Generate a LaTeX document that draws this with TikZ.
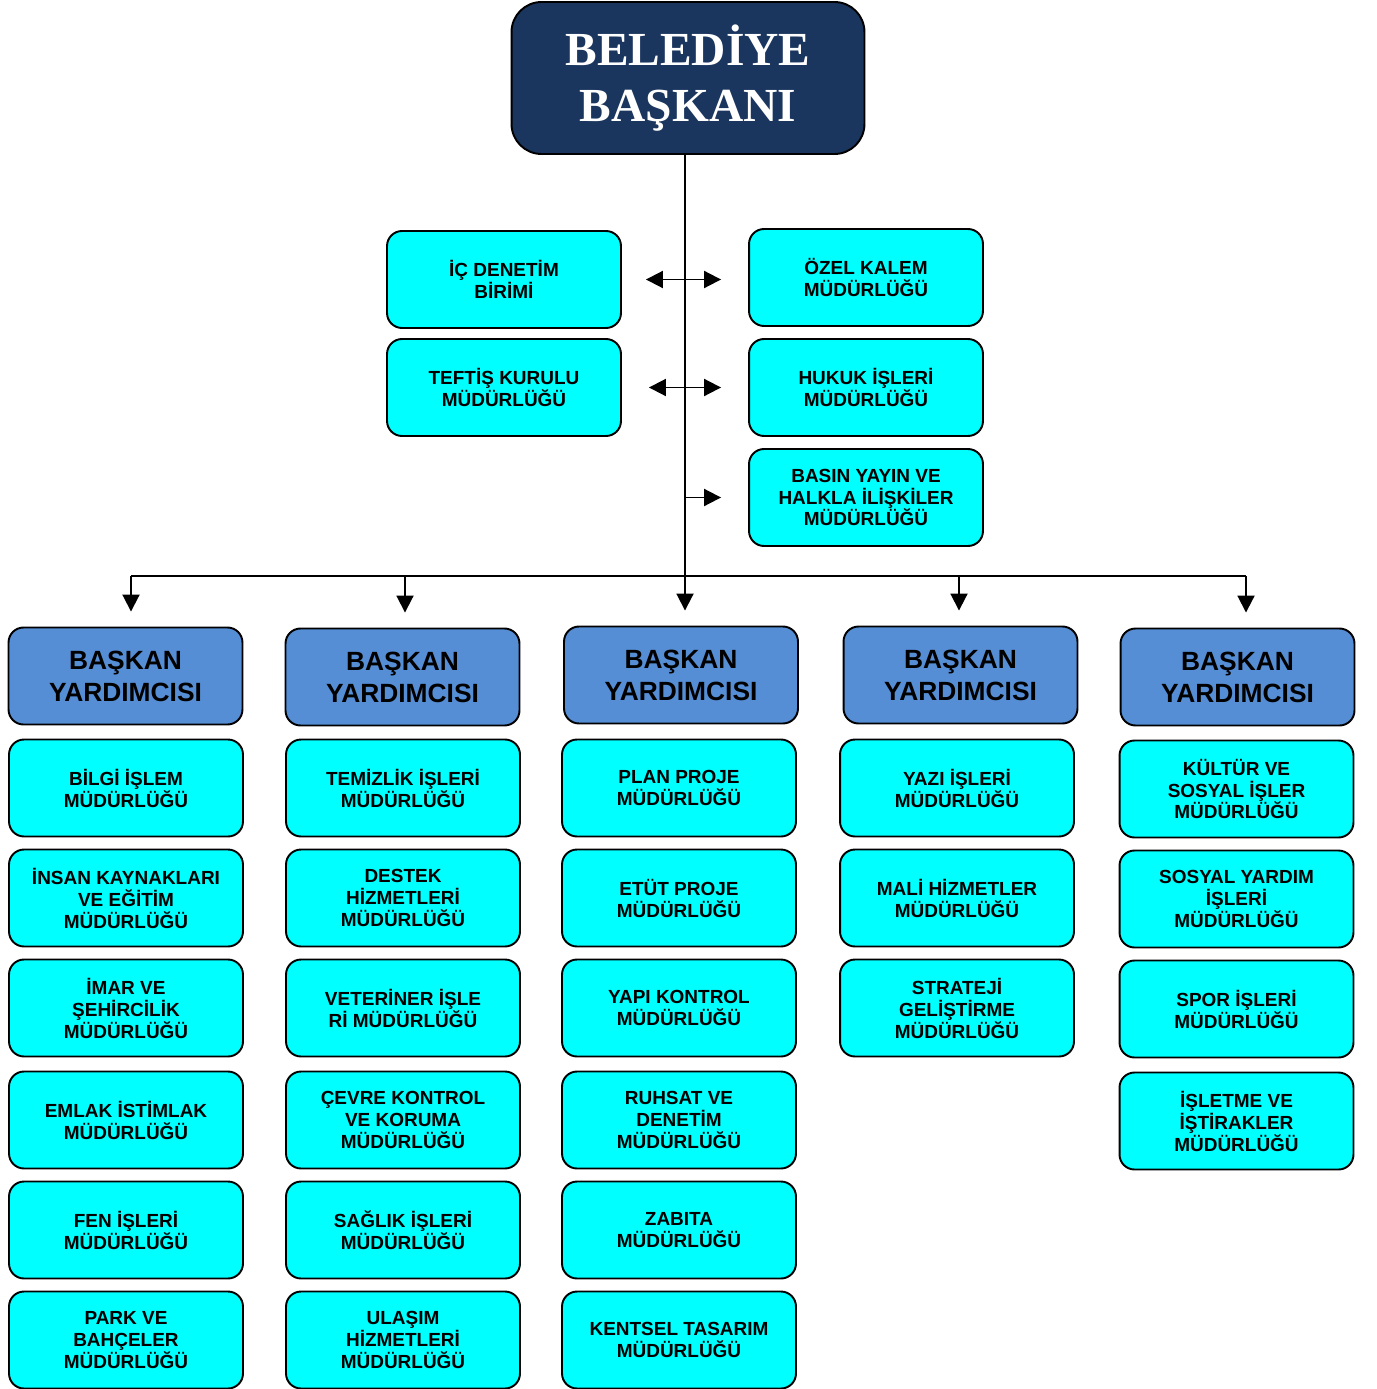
\documentclass[tikz,border=0pt]{standalone}
\usepackage{fontspec}
\setmainfont{Liberation Sans}
\newfontfamily\titlefont{Liberation Serif}
\usetikzlibrary{arrows.meta}
\definecolor{navy}{RGB}{27,54,94}
\definecolor{vpblue}{RGB}{85,142,213}
\definecolor{unitcyan}{RGB}{0,255,255}
\begin{document}
\begin{tikzpicture}[x=0.02cm,y=-0.02cm,
	unit/.style={draw,line width=1.1pt,fill=unitcyan,rounded corners=0.3cm,minimum width=4.68cm,minimum height=1.94cm,inner sep=0pt,align=center,font=\bfseries\fontsize{10.8}{12.5}\selectfont},
	vp/.style={unit,fill=vpblue,font=\bfseries\fontsize{15}{18.2}\selectfont},
	link/.style={line width=1.1pt},
	tip/.style={link,-{Triangle[length=0.34cm,width=0.34cm]}},
	both/.style={link,{Triangle[length=0.34cm,width=0.34cm]}-{Triangle[length=0.34cm,width=0.34cm]}}]
	\useasboundingbox (0,0) rectangle (1376,1389);
	\node[draw,line width=1.1pt,fill=navy,rounded corners=0.6cm,minimum width=7.06cm,minimum height=3.04cm,align=center,text=white,font=\titlefont\bfseries\fontsize{27}{31.9}\selectfont] (mayor) at (688,78) {BELEDİYE\\BAŞKANI};
	\node[unit] (icdenetim) at (504,279.5) {İÇ DENETİM\\BİRİMİ};
	\node[unit] (teftis) at (504,387.5) {TEFTİŞ KURULU\\MÜDÜRLÜĞÜ};
	\node[unit] (ozelkalem) at (866,277.5) {ÖZEL KALEM\\MÜDÜRLÜĞÜ};
	\node[unit] (hukuk) at (866,387.5) {HUKUK İŞLERİ\\MÜDÜRLÜĞÜ};
	\node[unit] (basin) at (866,497.5) {BASIN YAYIN VE\\HALKLA İLİŞKİLER\\MÜDÜRLÜĞÜ};
	\coordinate (bus1) at (131,576);
	\coordinate (bus2) at (405,576);
	\coordinate (bus3) at (685,576);
	\coordinate (bus4) at (959,576);
	\coordinate (bus5) at (1246,576);
	\draw[link] (bus3 |- mayor.south) -- (bus3);
	\draw[link] (bus1) -- (bus5);
	\draw[both,shorten <=0.48cm,shorten >=0.54cm] (icdenetim.east) -- (icdenetim.east -| ozelkalem.west);
	\draw[both,shorten <=0.54cm,shorten >=0.54cm] (teftis.east) -- (hukuk.west);
	\draw[tip,shorten >=0.54cm] (bus3 |- basin.west) -- (basin.west);
	\node[vp] (vp1) at (125.5,676) {BAŞKAN\\YARDIMCISI};
	\node[vp] (vp2) at (402.5,677) {BAŞKAN\\YARDIMCISI};
	\node[vp] (vp3) at (681,675) {BAŞKAN\\YARDIMCISI};
	\node[vp] (vp4) at (960.5,675) {BAŞKAN\\YARDIMCISI};
	\node[vp] (vp5) at (1237.5,677) {BAŞKAN\\YARDIMCISI};
	\draw[tip,shorten >=0.3cm] (bus1) -- (bus1 |- vp1.north);
	\draw[tip,shorten >=0.3cm] (bus2) -- (bus2 |- vp2.north);
	\draw[tip,shorten >=0.3cm] (bus3) -- (bus3 |- vp3.north);
	\draw[tip,shorten >=0.3cm] (bus4) -- (bus4 |- vp4.north);
	\draw[tip,shorten >=0.3cm] (bus5) -- (bus5 |- vp5.north);
	\node[unit] (bilgi) at (126,788) {BİLGİ İŞLEM\\MÜDÜRLÜĞÜ};
	\node[unit] (insan) at (126,898) {İNSAN KAYNAKLARI\\VE EĞİTİM\\MÜDÜRLÜĞÜ};
	\node[unit] (imar) at (126,1008) {İMAR VE\\ŞEHİRCİLİK\\MÜDÜRLÜĞÜ};
	\node[unit] (emlak) at (126,1120) {EMLAK İSTİMLAK\\MÜDÜRLÜĞÜ};
	\node[unit] (fen) at (126,1230) {FEN İŞLERİ\\MÜDÜRLÜĞÜ};
	\node[unit] (park) at (126,1340) {PARK VE\\BAHÇELER\\MÜDÜRLÜĞÜ};
	\node[unit] (temizlik) at (403,788) {TEMİZLİK İŞLERİ\\MÜDÜRLÜĞÜ};
	\node[unit] (destek) at (403,898) {DESTEK\\HİZMETLERİ\\MÜDÜRLÜĞÜ};
	\node[unit] (veteriner) at (403,1008) {VETERİNER İŞLE\\Rİ MÜDÜRLÜĞÜ};
	\node[unit] (cevre) at (403,1120) {ÇEVRE KONTROL\\VE KORUMA\\MÜDÜRLÜĞÜ};
	\node[unit] (saglik) at (403,1230) {SAĞLIK İŞLERİ\\MÜDÜRLÜĞÜ};
	\node[unit] (ulasim) at (403,1340) {ULAŞIM\\HİZMETLERİ\\MÜDÜRLÜĞÜ};
	\node[unit] (plan) at (679,788) {PLAN PROJE\\MÜDÜRLÜĞÜ};
	\node[unit] (etut) at (679,898) {ETÜT PROJE\\MÜDÜRLÜĞÜ};
	\node[unit] (yapi) at (679,1008) {YAPI KONTROL\\MÜDÜRLÜĞÜ};
	\node[unit] (ruhsat) at (679,1120) {RUHSAT VE\\DENETİM\\MÜDÜRLÜĞÜ};
	\node[unit] (zabita) at (679,1230) {ZABITA\\MÜDÜRLÜĞÜ};
	\node[unit] (kentsel) at (679,1340) {KENTSEL TASARIM\\MÜDÜRLÜĞÜ};
	\node[unit] (yazi) at (957,788) {YAZI İŞLERİ\\MÜDÜRLÜĞÜ};
	\node[unit] (mali) at (957,898) {MALİ HİZMETLER\\MÜDÜRLÜĞÜ};
	\node[unit] (strateji) at (957,1008) {STRATEJİ\\GELİŞTİRME\\MÜDÜRLÜĞÜ};
	\node[unit] (kultur) at (1236.5,789) {KÜLTÜR VE\\SOSYAL İŞLER\\MÜDÜRLÜĞÜ};
	\node[unit] (sosyal) at (1236.5,899) {SOSYAL YARDIM\\İŞLERİ\\MÜDÜRLÜĞÜ};
	\node[unit] (spor) at (1236.5,1009) {SPOR İŞLERİ\\MÜDÜRLÜĞÜ};
	\node[unit] (isletme) at (1236.5,1121) {İŞLETME VE\\İŞTİRAKLER\\MÜDÜRLÜĞÜ};
\end{tikzpicture}
\end{document}
